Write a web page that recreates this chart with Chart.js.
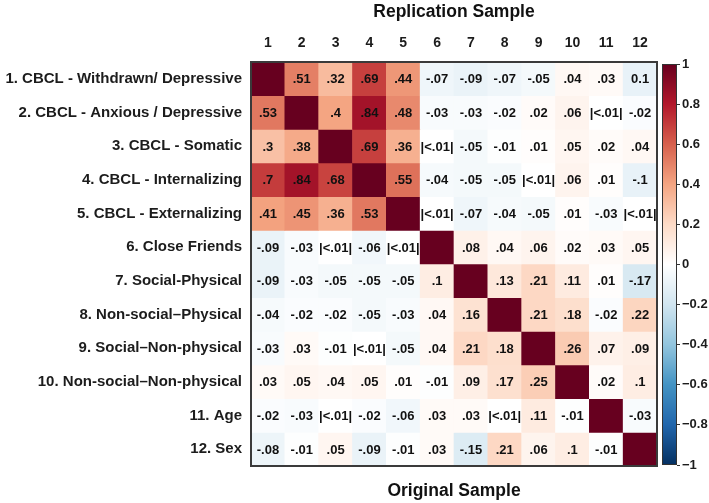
<!DOCTYPE html>
<html>
<head>
<meta charset="utf-8">
<script src="https://cdn.jsdelivr.net/npm/chart.js@4.4.1/dist/chart.umd.min.js"></script>
<style>
  html, body { margin: 0; padding: 0; background: #fff; overflow: hidden; }
  #wrap { position: relative; width: 709px; height: 503px; }
  #heat { position: absolute; left: 0; top: 0; }
  #bar { position: absolute; left: 655px; top: 0; }
</style>
</head>
<body>
<div id="wrap">
  <canvas id="heat" width="709" height="503"></canvas>
  <canvas id="bar" width="54" height="503"></canvas>
</div>
<script>
// columns = replication sample, rows = original sample
const colLabels = ['1', '2', '3', '4', '5', '6', '7', '8', '9', '10', '11', '12'];
const rowLabels = [
  '1. CBCL - Withdrawn/ Depressive',
  '2. CBCL - Anxious / Depressive',
  '3. CBCL - Somatic',
  '4. CBCL - Internalizing',
  '5. CBCL - Externalizing',
  '6. Close Friends',
  '7. Social-Physical',
  '8. Non-social\u2013Physical',
  '9. Social\u2013Non-physical',
  '10. Non-social\u2013Non-physical',
  '11. Age',
  '12. Sex'
];

// correlation values (drive the colour)
const corr = [
  [1, .51, .32, .69, .44, -.07, -.09, -.07, -.05, .04, .03, -.1],
  [.53, 1, .4, .84, .48, -.03, -.03, -.02, .02, .06, 0, -.02],
  [.3, .38, 1, .69, .36, 0, -.05, -.01, .01, .05, .02, .04],
  [.7, .84, .68, 1, .55, -.04, -.05, -.05, 0, .06, .01, -.1],
  [.41, .45, .36, .53, 1, 0, -.07, -.04, -.05, .01, -.03, 0],
  [-.09, -.03, 0, -.06, 0, 1, .08, .04, .06, .02, .03, .05],
  [-.09, -.03, -.05, -.05, -.05, .1, 1, .13, .21, .11, .01, -.17],
  [-.04, -.02, -.02, -.05, -.03, .04, .16, 1, .21, .18, -.02, .22],
  [-.03, .03, -.01, 0, -.05, .04, .21, .18, 1, .26, .07, .09],
  [.03, .05, .04, .05, .01, -.01, .09, .17, .25, 1, .02, .1],
  [-.02, -.03, 0, -.02, -.06, .03, .03, 0, .11, -.01, 1, -.03],
  [-.08, -.01, .05, -.09, -.01, .03, -.15, .21, .06, .1, -.01, 1]
];

// printed cell text
const cellText = [
  ['', '.51', '.32', '.69', '.44', '-.07', '-.09', '-.07', '-.05', '.04', '.03', '0.1'],
  ['.53', '', '.4', '.84', '.48', '-.03', '-.03', '-.02', '.02', '.06', '|<.01|', '-.02'],
  ['.3', '.38', '', '.69', '.36', '|<.01|', '-.05', '-.01', '.01', '.05', '.02', '.04'],
  ['.7', '.84', '.68', '', '.55', '-.04', '-.05', '-.05', '|<.01|', '.06', '.01', '-.1'],
  ['.41', '.45', '.36', '.53', '', '|<.01|', '-.07', '-.04', '-.05', '.01', '-.03', '|<.01|'],
  ['-.09', '-.03', '|<.01|', '-.06', '|<.01|', '', '.08', '.04', '.06', '.02', '.03', '.05'],
  ['-.09', '-.03', '-.05', '-.05', '-.05', '.1', '', '.13', '.21', '.11', '.01', '-.17'],
  ['-.04', '-.02', '-.02', '-.05', '-.03', '.04', '.16', '', '.21', '.18', '-.02', '.22'],
  ['-.03', '.03', '-.01', '|<.01|', '-.05', '.04', '.21', '.18', '', '.26', '.07', '.09'],
  ['.03', '.05', '.04', '.05', '.01', '-.01', '.09', '.17', '.25', '', '.02', '.1'],
  ['-.02', '-.03', '|<.01|', '-.02', '-.06', '.03', '.03', '|<.01|', '.11', '-.01', '', '-.03'],
  ['-.08', '-.01', '.05', '-.09', '-.01', '.03', '-.15', '.21', '.06', '.1', '-.01', '']
];

const scaleRange = [-1, 1];

// RdBu palette, from -1 to 1
const palette = ['#053061', '#2166AC', '#4393C3', '#92C5DE', '#D1E5F0', '#FFFFFF',
                 '#FDDBC7', '#F4A582', '#D6604D', '#B2182B', '#67001F'];

const FONT = '"Liberation Sans", Arial, Helvetica, sans-serif';
const INK = '#1c1c1c';

function hexToRgb(h) {
  const n = parseInt(h.slice(1), 16);
  return [(n >> 16) & 255, (n >> 8) & 255, n & 255];
}

function colorFor(v) {
  const t = (Math.max(-1, Math.min(1, v)) + 1) / 2 * (palette.length - 1);
  const i = Math.min(palette.length - 2, Math.floor(t));
  const f = t - i;
  const a = hexToRgb(palette[i]), b = hexToRgb(palette[i + 1]);
  const c = a.map((x, k) => Math.round(x + (b[k] - x) * f));
  return `rgb(${c[0]}, ${c[1]}, ${c[2]})`;
}

const cellLabels = {
  id: 'cellLabels',
  afterDatasetsDraw(chart) {
    const ctx = chart.ctx;
    ctx.save();
    ctx.font = `bold 13px ${FONT}`;
    ctx.fillStyle = '#111';
    ctx.textAlign = 'center';
    ctx.textBaseline = 'middle';
    chart.data.datasets.forEach((ds, r) => {
      chart.getDatasetMeta(r).data.forEach((bar, c) => {
        const txt = cellText[r][c];
        if (!txt) return;
        const p = bar.getCenterPoint();
        ctx.fillText(txt, p.x, p.y + 1);
      });
    });
    const a = chart.chartArea;
    ctx.strokeStyle = '#3a3a3a';
    ctx.lineWidth = 2;
    ctx.strokeRect(a.left, a.top, a.right - a.left, a.bottom - a.top);
    ctx.restore();
  }
};

const heatData = {
  labels: colLabels,
  datasets: rowLabels.map((name, r) => ({
    label: name,
    data: colLabels.map(() => [r + 0.5, r + 1.5]),
    backgroundColor: corr[r].map(colorFor),
    borderWidth: 0,
    barPercentage: 1,
    categoryPercentage: 1,
    grouped: false
  }))
};

const heatChart = new Chart(document.getElementById('heat'), {
  type: 'bar',
  data: heatData,
  options: {
    responsive: false,
    animation: false,
    devicePixelRatio: 1,
    layout: { padding: { left: 0, right: 52, top: 0, bottom: 0 } },
    plugins: { legend: { display: false }, tooltip: { enabled: false } },
    scales: {
      x: {
        position: 'top',
        grid: { display: false, drawTicks: false },
        border: { display: false },
        ticks: { color: INK, font: { family: FONT, size: 14, weight: 'bold' }, padding: 10 },
        title: {
          display: true,
          text: 'Replication Sample',
          color: '#111',
          font: { family: FONT, size: 17.5, weight: 'bold' },
          padding: { top: 2, bottom: 0 }
        },
        afterFit: (scale) => { scale.height = 62; }
      },
      xb: {
        type: 'category',
        labels: colLabels,
        position: 'bottom',
        grid: { display: false, drawTicks: false },
        border: { display: false },
        ticks: { display: false },
        title: {
          display: true,
          text: 'Original Sample',
          color: '#111',
          font: { family: FONT, size: 17.5, weight: 'bold' },
          padding: { top: 0, bottom: 1 }
        },
        afterFit: (scale) => { scale.height = 37; }
      },
      y: {
        type: 'linear',
        reverse: true,
        min: 0.5,
        max: 12.5,
        grid: { display: false, drawTicks: false },
        border: { display: false },
        afterBuildTicks: (scale) => { scale.ticks = rowLabels.map((_, i) => ({ value: i + 1 })); },
        ticks: {
          autoSkip: false,
          padding: 9,
          color: INK,
          font: { family: FONT, size: 15, weight: 'bold' },
          callback: (v) => rowLabels[v - 1]
        },
        afterFit: (scale) => { scale.width = 251; }
      }
    }
  },
  plugins: [cellLabels]
});

// colour bar
const barFrame = {
  id: 'barFrame',
  afterDatasetsDraw(chart) {
    const a = chart.chartArea;
    const ctx = chart.ctx;
    ctx.save();
    ctx.strokeStyle = '#333';
    ctx.lineWidth = 1;
    ctx.strokeRect(a.left + 0.5, a.top + 0.5, a.right - a.left - 1, a.bottom - a.top - 1);
    ctx.restore();
  }
};

const colorBar = new Chart(document.getElementById('bar'), {
  type: 'bar',
  data: {
    labels: [''],
    datasets: [{
      data: [scaleRange],
      barPercentage: 1,
      categoryPercentage: 1,
      borderWidth: 0,
      backgroundColor: (ctx) => {
        const chart = ctx.chart;
        if (!chart.chartArea) return '#fff';
        const y = chart.scales.y;
        const g = chart.ctx.createLinearGradient(0, y.getPixelForValue(scaleRange[0]), 0, y.getPixelForValue(scaleRange[1]));
        palette.forEach((c, i) => g.addColorStop(i / (palette.length - 1), c));
        return g;
      }
    }]
  },
  options: {
    responsive: false,
    animation: false,
    devicePixelRatio: 1,
    layout: { padding: { left: 7, right: 0, top: 64, bottom: 38 } },
    plugins: { legend: { display: false }, tooltip: { enabled: false } },
    scales: {
      x: { display: false },
      y: {
        position: 'right',
        min: scaleRange[0],
        max: scaleRange[1],
        grid: { drawOnChartArea: false, drawTicks: true, tickLength: 3, color: '#333' },
        border: { display: false },
        ticks: {
          stepSize: 0.2,
          padding: 2,
          color: INK,
          font: { family: FONT, size: 13, weight: 'bold' },
          callback: (v) => {
            const n = parseFloat(Number(v).toFixed(1));
            return n < 0 ? '\u2212' + Math.abs(n) : String(n);
          }
        },
        afterFit: (scale) => { scale.width = 32; }
      }
    }
  },
  plugins: [barFrame]
});
</script>
</body>
</html>
